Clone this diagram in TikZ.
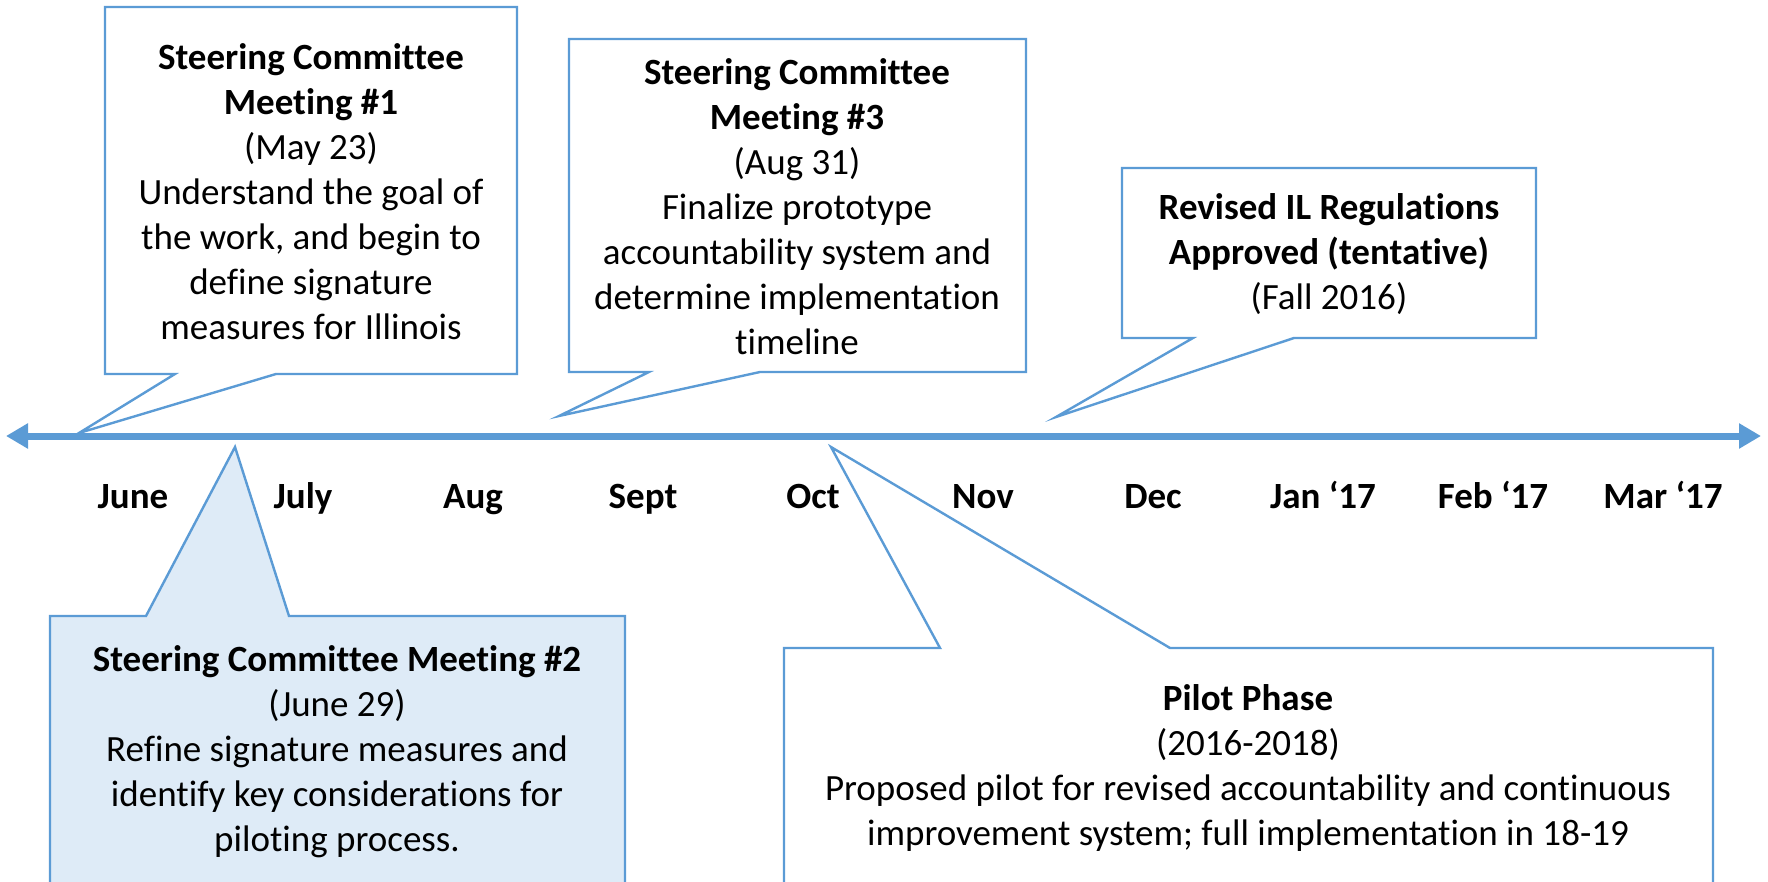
\documentclass[tikz,border=0pt]{standalone}
\usepackage{fontspec}
\setmainfont{Carlito}[Ligatures=NoCommon]
\usetikzlibrary{arrows.meta}
\definecolor{lineblue}{HTML}{5B9BD5}
\definecolor{paleblue}{HTML}{DEEBF7}
\begin{document}
\begin{tikzpicture}[x=0.5pt,y=-0.5pt,
  callout/.style={draw=lineblue, line width=1.2pt, line join=miter},
  txt/.style={align=center, inner sep=0pt, font=\fontsize{18.5}{22.5}\selectfont},
  month/.style={inner sep=0pt, anchor=base, font=\fontsize{18.5}{22.5}\selectfont\bfseries},
  axis/.style={draw=lineblue, line width=3.5pt,
    {Triangle[length=11pt,width=12pt]}-{Triangle[length=11pt,width=12pt]}}]
\useasboundingbox (0,0) rectangle (1768,882);
\begin{scope}
\clip (0,0) rectangle (1768,882);

% timeline
\coordinate (tl) at (6,436);
\coordinate (tr) at (1761,436);
\draw[axis] (tl) -- (tr);

% month labels
\foreach \m [count=\i from 0] in {June,July,Aug,Sept,Oct,Nov,Dec,Jan ‘17,Feb ‘17,Mar ‘17}
  \node[month] (m\i) at ({133+170*\i},508) {\m};

% callout 1: meeting #1
\coordinate (t1) at (79,433);
\draw[callout] (105,7) -- (517,7) -- (517,374) -- (276,374) -- (t1) -- (175,374) -- (105,374) -- cycle;
\node[txt] (n1) at (311,192) {\textbf{Steering Committee}\\\textbf{Meeting \#1}\\(May 23)\\Understand the goal of\\the work, and begin to\\define signature\\measures for Illinois};

% callout 3: meeting #3
\coordinate (t3) at (559,416);
\draw[callout] (569,39) -- (1026,39) -- (1026,372) -- (760,372) -- (t3) -- (649,372) -- (569,372) -- cycle;
\node[txt] (n3) at (797,207) {\textbf{Steering Committee}\\\textbf{Meeting \#3}\\(Aug 31)\\Finalize prototype\\accountability system and\\determine implementation\\timeline};

% callout 4: regulations
\coordinate (t4) at (1056,417);
\draw[callout] (1122,168) -- (1536,168) -- (1536,338) -- (1294,338) -- (t4) -- (1193,338) -- (1122,338) -- cycle;
\node[txt] (n4) at (1329,254) {\textbf{Revised IL Regulations}\\\textbf{Approved (tentative)}\\(Fall 2016)};

% callout 2: meeting #2 (shaded)
\coordinate (t2) at (235,447);
\draw[callout, fill=paleblue] (50,616) -- (146,616) -- (t2) -- (289,616) -- (625,616) -- (625,960) -- (50,960) -- cycle;
\node[txt] (n2) at (337,752) {\textbf{Steering Committee Meeting \#2}\\(June 29)\\Refine signature measures and\\identify key considerations for\\piloting process.};

% callout 5: pilot phase
\coordinate (t5) at (831,447);
\draw[callout] (784,648) -- (940,648) -- (t5) -- (1170,648) -- (1713,648) -- (1713,960) -- (784,960) -- cycle;
\node[txt] (n5) at (1248,768) {\textbf{Pilot Phase}\\(2016-2018)\\Proposed pilot for revised accountability and continuous\\improvement system; full implementation in 18-19};
\end{scope}
\end{tikzpicture}
\end{document}
